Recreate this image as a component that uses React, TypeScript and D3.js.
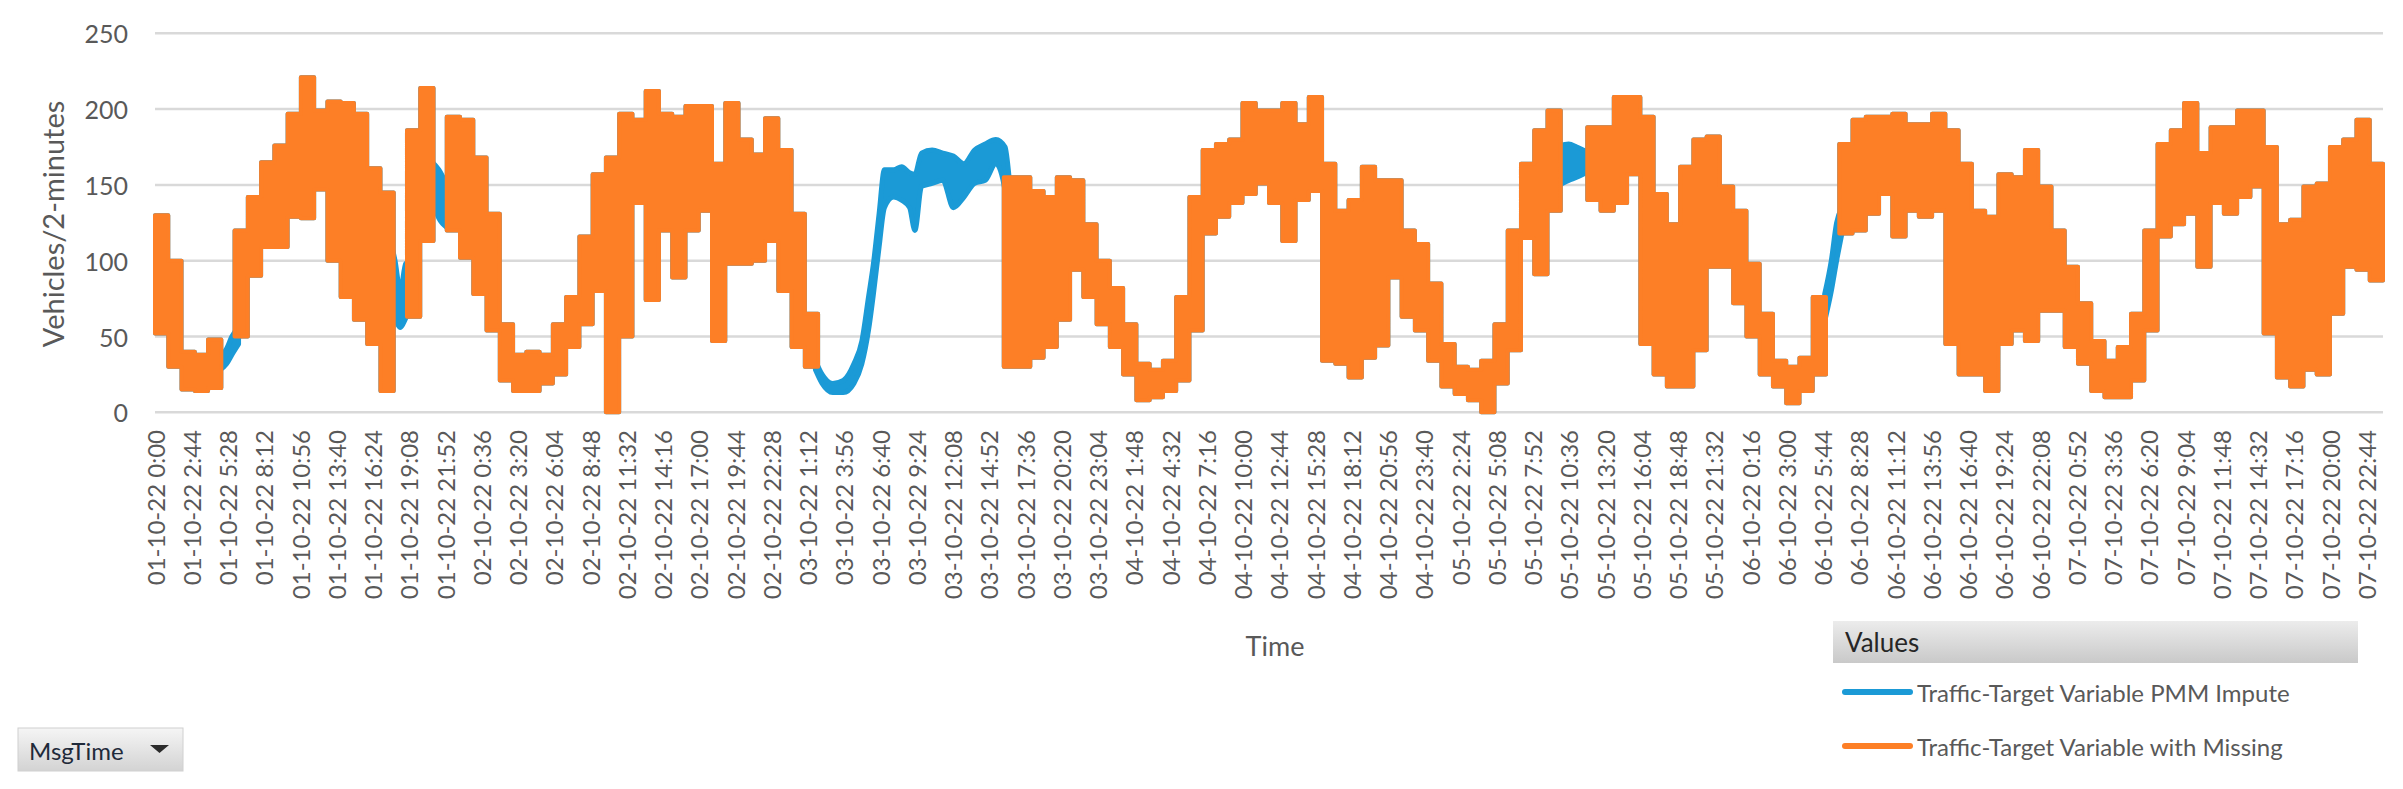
import React from "react";
import * as d3 from "d3";

// Hourly envelope (min / max of the 2-minute counts) of the observed series,
// one array per day, null where the observed series is missing.
const oct01Lo = [52, 30, 15, 14, 16, null, 50, 90, 109, 109, 129, 128, 147, 100, 76, 61, 45, 14, null, 63, 113, null, 120, 102];
const oct01Hi = [130, 100, 40, 38, 48, null, 120, 142, 165, 176, 197, 221, 199, 205, 204, 197, 161, 145, null, 186, 214, null, 195, 193];
const oct02Lo = [78, 54, 21, 14, 14, 19, 25, 43, 58, 80, 0, 50, 138, 74, 120, 89, 120, 133, 47, 98, 98, 100, 113, 80];
const oct02Hi = [168, 131, 58, 38, 40, 38, 58, 76, 116, 157, 168, 197, 193, 212, 197, 195, 202, 202, 164, 204, 180, 170, 194, 173];
const oct03Lo = [43, 30, null, null, null, null, null, null, null, null, null, null, null, null, null, null, 30, 30, 36, 43, 61, 94, 76, 58];
const oct03Hi = [131, 65, null, null, null, null, null, null, null, null, null, null, null, null, null, null, 155, 155, 146, 142, 155, 153, 124, 100];
const oct04Lo = [43, 25, 8, 10, 14, 21, 54, 118, 129, 138, 144, 151, 138, 113, 140, 146, 34, 32, 23, 36, 44, 89, 63, 54];
const oct04Hi = [82, 58, 32, 28, 34, 76, 142, 173, 177, 180, 204, 199, 199, 204, 190, 208, 164, 133, 140, 162, 153, 153, 120, 111];
const oct05Lo = [34, 17, 12, 8, 0, 19, 41, 115, 91, 133, null, null, 140, 133, 138, 157, 45, 25, 17, 17, 41, 96, 96, 72];
const oct05Hi = [85, 45, 30, 28, 34, 58, 120, 164, 186, 199, null, null, 188, 188, 208, 208, 195, 144, 124, 162, 180, 182, 149, 133];
const oct06Lo = [50, 25, 17, 6, 14, 25, null, 118, 120, 131, 144, 116, 133, 129, 133, 45, 25, 25, 14, 45, 54, 47, 67, 67];
const oct06Hi = [98, 65, 34, 30, 36, 76, null, 177, 193, 195, 195, 197, 190, 190, 197, 186, 164, 133, 129, 157, 155, 173, 149, 120];
const oct07Lo = [43, 32, 14, 10, 10, 21, 54, 116, 124, 131, 96, 138, 131, 142, 149, 52, 23, 17, 28, 25, 65, 96, 94, 87];
const oct07Hi = [96, 72, 47, 34, 43, 65, 120, 177, 186, 204, 171, 188, 188, 199, 199, 175, 124, 127, 149, 151, 175, 180, 193, 164];

// PMM-imputed values shown where the observed series is missing: [hour, low, high]
const imputedOct01Early: [number, number, number][] = [[4.9, 28, 36], [5.4, 32, 42], [5.8, 38, 50], [6.3, 45, 56]];
const imputedOct01Evening: [number, number, number][] = [[17.6, 76, 118], [18.1, 62, 100], [18.5, 56, 80], [18.9, 62, 98], [19.3, 70, 100]];
const imputedOct01Night: [number, number, number][] = [[20.9, 140, 165], [21.4, 128, 160], [22.0, 122, 150]];
const imputedOct03: [number, number, number][] = [
  [49.8, 28, 34], [50.3, 19, 25], [51.1, 13, 19], [51.9, 13, 21], [52.7, 19, 32], [53.3, 32, 47],
  [53.8, 54, 76], [54.2, 80, 100], [54.6, 109, 131], [55.0, 135, 160], [55.7, 142, 160], [56.3, 140, 162],
  [56.9, 135, 158], [57.3, 120, 157], [57.8, 149, 171], [58.6, 151, 173], [59.4, 153, 171], [60.2, 135, 169],
  [61.0, 142, 164], [61.8, 151, 173], [62.6, 153, 177], [63.4, 164, 180], [64.1, 146, 175], [64.4, 116, 155],
];
const imputedOct05: [number, number, number][] = [[105.9, 150, 176], [106.6, 153, 177], [107.2, 155, 175], [107.9, 158, 172]];
const imputedOct06: [number, number, number][] = [[125.9, 60, 78], [126.4, 80, 100], [126.8, 100, 125], [127.2, 118, 135]];

const tickLabels = [
  "01-10-22 0:00", "01-10-22 2:44", "01-10-22 5:28", "01-10-22 8:12", "01-10-22 10:56", "01-10-22 13:40",
  "01-10-22 16:24", "01-10-22 19:08", "01-10-22 21:52", "02-10-22 0:36", "02-10-22 3:20", "02-10-22 6:04",
  "02-10-22 8:48", "02-10-22 11:32", "02-10-22 14:16", "02-10-22 17:00", "02-10-22 19:44", "02-10-22 22:28",
  "03-10-22 1:12", "03-10-22 3:56", "03-10-22 6:40", "03-10-22 9:24", "03-10-22 12:08", "03-10-22 14:52",
  "03-10-22 17:36", "03-10-22 20:20", "03-10-22 23:04", "04-10-22 1:48", "04-10-22 4:32", "04-10-22 7:16",
  "04-10-22 10:00", "04-10-22 12:44", "04-10-22 15:28", "04-10-22 18:12", "04-10-22 20:56", "04-10-22 23:40",
  "05-10-22 2:24", "05-10-22 5:08", "05-10-22 7:52", "05-10-22 10:36", "05-10-22 13:20", "05-10-22 16:04",
  "05-10-22 18:48", "05-10-22 21:32", "06-10-22 0:16", "06-10-22 3:00", "06-10-22 5:44", "06-10-22 8:28",
  "06-10-22 11:12", "06-10-22 13:56", "06-10-22 16:40", "06-10-22 19:24", "06-10-22 22:08", "07-10-22 0:52",
  "07-10-22 3:36", "07-10-22 6:20", "07-10-22 9:04", "07-10-22 11:48", "07-10-22 14:32", "07-10-22 17:16",
  "07-10-22 20:00", "07-10-22 22:44",
];
const TICK_EVERY = 82; // categories (2-minute slots) between labels
const TOTAL_SLOTS = 5040;
const yTicks = [0, 50, 100, 150, 200, 250];

const BLUE = "#1b9ad6";
const ORANGE = "#fd7f26";
const FONT = "Lato, 'Open Sans', sans-serif";

type P = { t: number; lo: number | null; hi: number | null };

export default function App() {
  const W = 2403;
  const H = 789;
  const x = d3.scaleLinear().domain([0, TOTAL_SLOTS]).range([155, 2383]);
  const y = d3.scaleLinear().domain([0, 250]).range([412.3, 33.3]);
  const hx = (h: number) => x(h * 30);

  const obsLo = [oct01Lo, oct02Lo, oct03Lo, oct04Lo, oct05Lo, oct06Lo, oct07Lo].flat();
  const obsHi = [oct01Hi, oct02Hi, oct03Hi, oct04Hi, oct05Hi, oct06Hi, oct07Hi].flat();

  const stepPts: P[] = [];
  obsLo.forEach((l, i) => {
    const h = obsHi[i];
    if (l == null || h == null) stepPts.push({ t: i, lo: null, hi: null });
    else {
      stepPts.push({ t: i, lo: l, hi: h });
      stepPts.push({ t: i + 1, lo: l, hi: h });
    }
  });

  const area = d3
    .area<P>()
    .defined((d) => d.lo != null && d.hi != null)
    .x((d) => hx(d.t))
    .y0((d) => y(d.lo as number))
    .y1((d) => y(d.hi as number));

  const gapArea = d3
    .area<[number, number, number]>()
    .x((d) => hx(d[0]))
    .y0((d) => y(d[1]))
    .y1((d) => y(d[2]))
    .curve(d3.curveMonotoneX);

  const gaps = [imputedOct01Early, imputedOct01Evening, imputedOct01Night, imputedOct03, imputedOct05, imputedOct06];
  const observedPath = area(stepPts) || "";

  return (
    <svg
      width={W}
      height={H}
      style={{ position: "absolute", left: 0, top: 0, background: "#fff" }}
      fontFamily={FONT}
    >
      <defs>
        <linearGradient id="hdr" x1="0" y1="0" x2="0" y2="1">
          <stop offset="0" stopColor="#ececec" />
          <stop offset="1" stopColor="#c9c9c9" />
        </linearGradient>
        <linearGradient id="btn" x1="0" y1="0" x2="0" y2="1">
          <stop offset="0" stopColor="#f5f5f5" />
          <stop offset="1" stopColor="#d3d3d3" />
        </linearGradient>
      </defs>

      {/* gridlines */}
      {yTicks.map((v) => (
        <line key={v} x1={155} x2={2383} y1={y(v)} y2={y(v)} stroke="#d9d9d9" strokeWidth={2.5} />
      ))}

      {/* y tick labels */}
      {yTicks.map((v) => (
        <text key={"t" + v} x={128} y={y(v)} textAnchor="end" dominantBaseline="central" fontSize={25} fill="#595959">
          {v}
        </text>
      ))}
      <text
        transform="translate(52,224) rotate(-90)"
        textAnchor="middle"
        dominantBaseline="central"
        fontSize={29}
        fill="#595959"
      >
        Vehicles/2-minutes
      </text>

      {/* imputed series (full) */}
      <path d={observedPath} fill={BLUE} stroke={BLUE} strokeWidth={4} strokeLinejoin="round" />
      {gaps.map((g, i) => (
        <path key={"g" + i} d={gapArea(g) || ""} fill={BLUE} stroke={BLUE} strokeWidth={5} strokeLinejoin="round" />
      ))}
      {/* observed series with missing values */}
      <path d={observedPath} fill={ORANGE} stroke={ORANGE} strokeWidth={4} strokeLinejoin="round" />

      {/* x tick labels */}
      {tickLabels.map((lab, k) => {
        const px = x(k * TICK_EVERY + 0.5);
        return (
          <text
            key={lab}
            transform={`translate(${px},430) rotate(-90)`}
            textAnchor="end"
            dominantBaseline="central"
            fontSize={24}
            fill="#595959"
          >
            {lab}
          </text>
        );
      })}

      <text x={1275} y={645} textAnchor="middle" dominantBaseline="central" fontSize={27} fill="#595959">
        Time
      </text>

      {/* legend */}
      <rect x={1833} y={621} width={525} height={42} fill="url(#hdr)" />
      <text x={1845} y={642} dominantBaseline="central" fontSize={26} fill="#262626">
        Values
      </text>
      <line x1={1845} x2={1910} y1={692} y2={692} stroke={BLUE} strokeWidth={6} strokeLinecap="round" />
      <text x={1917} y={692} dominantBaseline="central" fontSize={24} fill="#595959">
        Traffic-Target Variable PMM Impute
      </text>
      <line x1={1845} x2={1910} y1={746} y2={746} stroke={ORANGE} strokeWidth={6} strokeLinecap="round" />
      <text x={1917} y={746} dominantBaseline="central" fontSize={24} fill="#595959">
        Traffic-Target Variable with Missing
      </text>

      {/* field button */}
      <rect x={18} y={728} width={165} height={43} fill="url(#btn)" stroke="#d0d0d0" strokeWidth={1} />
      <text x={29} y={750} dominantBaseline="central" fontSize={24} fill="#1f2a3a">
        MsgTime
      </text>
      <polygon points="150,745 169,745 159.5,753" fill="#2b2b2b" />
    </svg>
  );
}
